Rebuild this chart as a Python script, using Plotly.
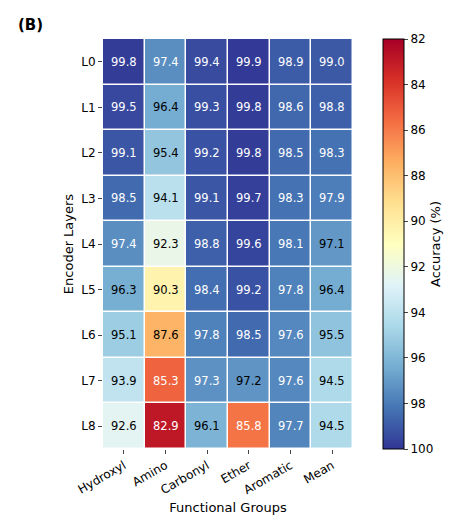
import plotly.graph_objects as go

groups = ["Hydroxyl", "Amino", "Carbonyl", "Ether", "Aromatic", "Mean"]
layers = ["L0", "L1", "L2", "L3", "L4", "L5", "L6", "L7", "L8"]
values = [
    [99.8, 97.4, 99.4, 99.9, 98.9, 99.0],
    [99.5, 96.4, 99.3, 99.8, 98.6, 98.8],
    [99.1, 95.4, 99.2, 99.8, 98.5, 98.3],
    [98.5, 94.1, 99.1, 99.7, 98.3, 97.9],
    [97.4, 92.3, 98.8, 99.6, 98.1, 97.1],
    [96.3, 90.3, 98.4, 99.2, 97.8, 96.4],
    [95.1, 87.6, 97.8, 98.5, 97.6, 95.5],
    [93.9, 85.3, 97.3, 97.2, 97.6, 94.5],
    [92.6, 82.9, 96.1, 85.8, 97.7, 94.5],
]
cb_ticks = [82, 84, 86, 88, 90, 92, 94, 96, 98, 100]

fig = go.Figure(go.Heatmap(
    z=[[-v for v in row] for row in values], x=groups, y=layers,
    zmin=-100, zmax=-82, colorscale="RdYlBu_r", xgap=1.5, ygap=1.5,
    hoverinfo="skip",
    colorbar=dict(
        tickvals=[-t for t in cb_ticks], ticktext=[str(t) for t in cb_ticks],
        x=1.12, xanchor="left", y=0.5, yanchor="middle", len=1.0, lenmode="fraction",
        thickness=21, outlinewidth=1, outlinecolor="black", ticks="outside",
        ticklen=4, tickfont=dict(size=12, color="black"), xpad=0, ypad=0,
        title=dict(text="Accuracy (%)", side="right", font=dict(size=13, color="black")),
    ),
))
for i, row in enumerate(values):
    for j, v in enumerate(row):
        col = "white" if (v >= 97.3 or v <= 86) else "black"
        fig.add_annotation(x=groups[j], y=layers[i], text=f"{v:.1f}", showarrow=False,
                           font=dict(size=11.5, color=col))
fig.add_annotation(text="<b>(B)</b>", xref="paper", yref="paper", x=-0.35, y=1.06,
                   xanchor="left", showarrow=False, font=dict(size=15, color="black"))
fig.update_layout(
    width=476, height=528, plot_bgcolor="white", paper_bgcolor="white",
    font=dict(family="DejaVu Sans", color="black"),
    margin=dict(l=95, r=131, t=31, b=87),
    xaxis=dict(tickangle=-30, ticks="outside", ticklen=4, tickfont=dict(size=12),
               title=dict(text="Functional Groups", font=dict(size=13), standoff=6)),
    yaxis=dict(autorange="reversed", ticks="outside", ticklen=4, tickfont=dict(size=12),
               title=dict(text="Encoder Layers", font=dict(size=13), standoff=4)),
)
fig.write_html("out.html")
